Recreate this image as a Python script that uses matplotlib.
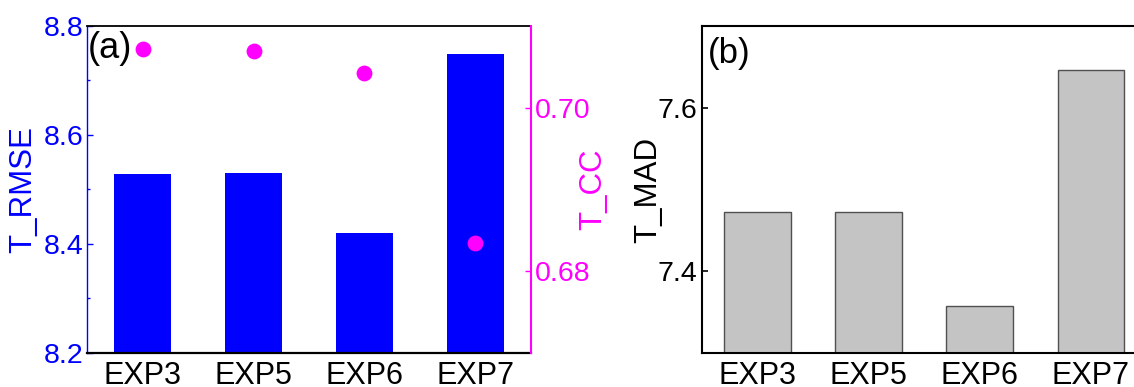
import matplotlib
matplotlib.use("Agg")
import matplotlib.pyplot as plt
from matplotlib.ticker import MultipleLocator
import numpy as np

plt.rcParams['font.family'] = ['Liberation Sans', 'DejaVu Sans']

categories = ["EXP3", "EXP5", "EXP6", "EXP7"]
t_rmse = [8.529, 8.530, 8.420, 8.749]
t_cc = [0.7072, 0.7070, 0.7042, 0.6835]
t_mad = [7.473, 7.473, 7.357, 7.646]

BLUE = "#0000ff"
MAG = "#ff00ff"

fig = plt.figure(figsize=(11.34, 3.87), dpi=100)
H = 387.0
W = 1134.0
bot = 1 - 353 / H
top = 1 - 26 / H
axa_w = 443.4
axb_w = 444.8
axa = fig.add_axes([87.3 / W, bot, axa_w / W, top - bot])
axb = fig.add_axes([701.7 / W, bot, axb_w / W, top - bot])

x = np.arange(len(categories))

# Panel (a)
axa.bar(x, t_rmse, width=0.51, color=BLUE, zorder=2)
axa.set_xlim(-0.5, 3.5)
axa.set_ylim(8.2, 8.8)
axa.set_yticks([8.2, 8.4, 8.6, 8.8])
axa.yaxis.set_minor_locator(MultipleLocator(0.1))
axa.set_xticks(x)
axa.set_xticklabels(categories)
axa.tick_params(axis='x', length=0, labelsize=22, pad=6)
axa.tick_params(axis='y', which='major', direction='in', length=4, width=1,
                colors=BLUE, labelsize=20.5, pad=3)
axa.tick_params(axis='y', which='minor', direction='in', length=2.5, width=1,
                colors=BLUE)
axa.set_ylabel("T_RMSE", color=BLUE, fontsize=22.5, va='center')
axa.yaxis.set_label_coords((23 - 87.3) / axa_w, 0.5)
axa.spines['left'].set_color(BLUE)
axa.spines['left'].set_linewidth(1.0)
axa.spines['top'].set_linewidth(1.3)
axa.spines['bottom'].set_linewidth(1.6)
axa.spines['right'].set_visible(False)
axa.text(0.0, 0.985, "(a)", transform=axa.transAxes, ha='left', va='top',
         fontsize=26, zorder=5)

axt = axa.twinx()
axt.scatter(x, t_cc, s=130, color=MAG, zorder=3, linewidths=0)
axt.set_ylim(0.67, 0.71)
axt.set_yticks([0.68, 0.70])
axt.set_yticklabels(["0.68", "0.70"])
axt.tick_params(axis='y', direction='in', length=4, width=1, colors=MAG,
                labelsize=20.5, pad=3)
axt.set_ylabel("T_CC", color=MAG, fontsize=22.5, va='center')
axt.yaxis.set_label_coords((593 - 87.3) / axa_w, 0.5)
axt.spines['right'].set_color(MAG)
axt.spines['right'].set_linewidth(1.5)
axt.spines['left'].set_visible(False)
axt.spines['top'].set_visible(False)
axt.spines['bottom'].set_visible(False)

# Panel (b)
axb.bar(x, t_mad, width=0.6, color="#c4c4c4", edgecolor="#505050",
        linewidth=1.0, zorder=2)
axb.set_xlim(-0.5, 3.5)
axb.set_ylim(7.3, 7.7)
axb.set_yticks([7.4, 7.6])
axb.set_yticklabels(["7.4", "7.6"])
axb.set_xticks(x)
axb.set_xticklabels(categories)
axb.tick_params(axis='x', length=0, labelsize=22, pad=6)
axb.tick_params(axis='y', direction='in', length=4.5, width=1.2,
                labelsize=20.5, pad=3)
axb.set_ylabel("T_MAD", color='black', fontsize=22.5, va='center')
axb.yaxis.set_label_coords((648 - 701.7) / axb_w, 0.5)
for s in ['left', 'top', 'bottom', 'right']:
    axb.spines[s].set_linewidth(1.5)
axb.text(0.014, 0.965, "(b)", transform=axb.transAxes, ha='left', va='top',
         fontsize=25, zorder=5)

fig.savefig("out.png", dpi=100)
